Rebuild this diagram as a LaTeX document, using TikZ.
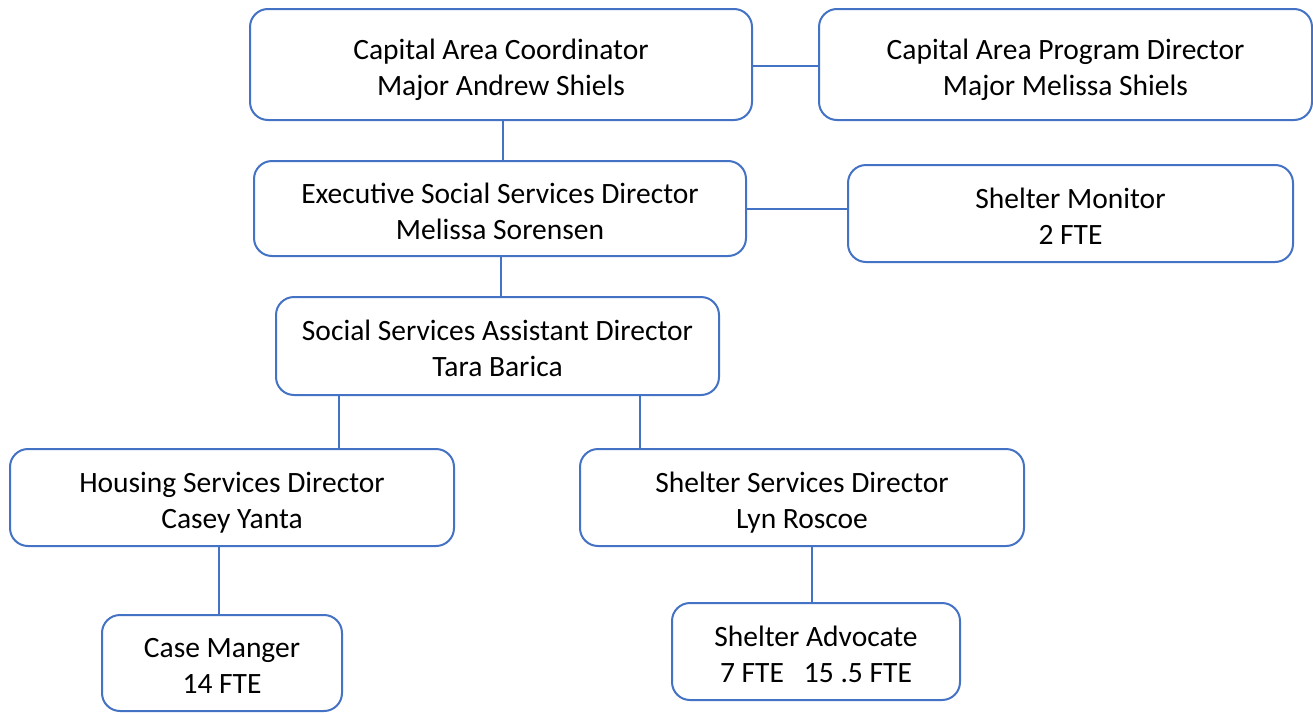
\documentclass[tikz,border=0pt]{standalone}
\usepackage{fontspec}
\setmainfont{Carlito}
\usepackage{tikz}
\usetikzlibrary{arrows}

\definecolor{orgblue}{HTML}{4472C4}

\begin{document}
\begin{tikzpicture}[x=1pt,y=-1pt,-,line width=2pt,draw=orgblue,
  main node/.style={rectangle,rounded corners=18pt,draw=orgblue,line width=2pt,fill=white,
    align=center,inner sep=0pt,font=\fontsize{29.5}{36}\selectfont,
    text height=68pt,text depth=7pt}]
  \useasboundingbox (0,0) rectangle (1313,712);

  \node[main node,minimum width=502pt,minimum height=111pt] (1) at (501,64.5) {Capital Area Coordinator\\Major Andrew Shiels};
  \node[main node,minimum width=493pt,minimum height=111pt] (2) at (1065.5,64.5) {Capital Area Program Director\\Major Melissa Shiels};
  \node[main node,minimum width=492pt,minimum height=95pt] (3) at (500,208.5) {Executive Social Services Director\\Melissa Sorensen};
  \node[main node,minimum width=445pt,minimum height=97pt] (4) at (1070.5,213.5) {Shelter Monitor\\2 FTE};
  \node[main node,minimum width=443pt,minimum height=98pt] (5) at (497.5,346) {Social Services Assistant Director\\Tara Barica};
  \node[main node,minimum width=444pt,minimum height=97pt] (6) at (232,497.5) {Housing Services Director\\Casey Yanta};
  \node[main node,minimum width=444pt,minimum height=97pt] (7) at (802,497.5) {Shelter Services Director\\Lyn Roscoe};
  \node[main node,minimum width=240pt,minimum height=96pt] (8) at (222,663) {Case Manger\\14 FTE};
  \node[main node,minimum width=288pt,minimum height=97pt] (9) at (816,651.5) {Shelter Advocate\\7 FTE\ \ \ 15 .5 FTE};

  \draw[orgblue] (1.east |- 0,66) -- (2.west |- 0,66);
  \draw[orgblue] (503,0 |- 1.south) -- (503,0 |- 3.north);
  \draw[orgblue] (3.east |- 0,209) -- (4.west |- 0,209);
  \draw[orgblue] (501,0 |- 3.south) -- (501,0 |- 5.north);
  \draw[orgblue] (339,0 |- 5.south) -- (339,0 |- 6.north);
  \draw[orgblue] (640,0 |- 5.south) -- (640,0 |- 7.north);
  \draw[orgblue] (219,0 |- 6.south) -- (219,0 |- 8.north);
  \draw[orgblue] (812,0 |- 7.south) -- (812,0 |- 9.north);

\end{tikzpicture}
\end{document}
